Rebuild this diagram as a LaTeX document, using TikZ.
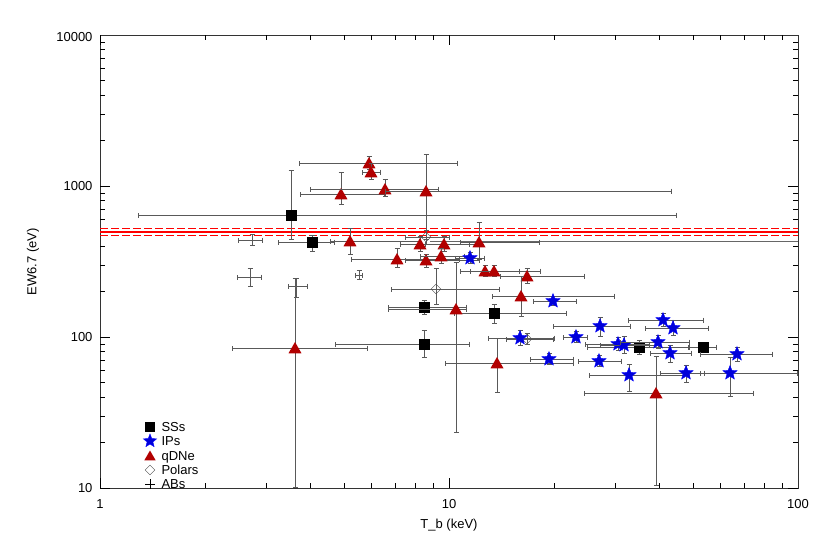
\documentclass[tikz,border=0pt]{standalone}
\usepackage{fontspec}
\setmainfont{Liberation Sans}
\usetikzlibrary{arrows.meta,shapes.geometric}

\begin{document}
\begin{tikzpicture}[x=1pt,y=-1pt,
  ebar/.style={draw=black!65, line width=0.6pt, {Bar[width=5pt]}-{Bar[width=5pt]}},
  ss/.style={rectangle, fill=black, inner sep=0pt, minimum size=11pt},
  ip/.style={star, star points=5, star point ratio=2.3, fill=blue!85!black, draw=blue, inner sep=0pt, minimum size=15pt},
  qdn/.style={regular polygon, regular polygon sides=3, fill=red!70!black, inner sep=0pt, minimum size=15pt},
  polar/.style={diamond, draw=black!70, inner sep=0pt, minimum size=10pt},
  ab/.style={inner sep=0pt, minimum size=0pt},
  lbl/.style={font=\fontsize{13}{14}\selectfont}]

\useasboundingbox (0,0) rectangle (830,554);

% frame and ticks
\draw[black!80, line width=0.6pt] (100,35) rectangle (798,488);
\foreach \d in {0,1} {
  \draw (100+349*\d,488) -- ++(0,-10) (100+349*\d,35) -- ++(0,10);
  \foreach \m in {2,...,9}
    \draw ({100+349*(\d+log10(\m))},488) -- ++(0,-5) ({100+349*(\d+log10(\m))},35) -- ++(0,5);
}
\foreach \d in {0,1,2} {
  \draw (100,488-151*\d) -- ++(10,0) (798,488-151*\d) -- ++(-10,0);
  \foreach \m in {2,...,9}
    \draw (100,{488-151*(\d+log10(\m))}) -- ++(5,0) (798,{488-151*(\d+log10(\m))}) -- ++(-5,0);
}
\node[lbl] (x1) at (100,504) {1};
\node[lbl] (x10) at (449,504) {10};
\node[lbl] (x100) at (798,504) {100};
\node[lbl, anchor=east] (y10) at (96,488) {10};
\node[lbl, anchor=east] (y100) at (96,337) {100};
\node[lbl, anchor=east] (y1000) at (96,186) {1000};
\node[lbl, anchor=east] (y10000) at (96,37) {10000};
\node[lbl] (xlab) at (449,525) {T\_b (keV)};
\node[lbl, rotate=90] (ylab) at (33,262) {EW6.7 (eV)};

% reference line
\draw[red, line width=1.3pt] (100,232) -- (798,232);
\draw[red, line width=1.6pt, dash pattern=on 8pt off 3pt] (100,228.5) -- (798,228.5) (100,235.5) -- (798,235.5);
\draw[black!60, line width=0.5pt] (430,241) -- (798,241);

% ABs
\foreach \x/\y/\xl/\xr/\yt/\yb [count=\i] in {250/277/237/262/268/287, 252/240/238/263/234/246, 296/286/288/308/278/298, 359/275/355/363/270/280} {
  \draw[ebar] (\xl,\y) -- (\xr,\y);
  \draw[ebar] (\x,\yt) -- (\x,\yb);
  \node[ab] (ab\i) at (\x,\y) {};
}

% SSs
\foreach \x/\y/\xl/\xr/\yt/\yb [count=\i] in {291/215/138/677/170/240, 312/242/278/335/235/252, 424/307/388/467/300/315, 494/313/454/567/304/324, 424/344/335/470/330/358, 639/347/587/690/340/355, 703/347/688/717/342/352} {
  \draw[ebar] (\xl,\y) -- (\xr,\y);
  \draw[ebar] (\x,\yt) -- (\x,\yb);
  \node[ss] (ss\i) at (\x,\y) {};
}

% qDNe
\foreach \x/\y/\xl/\xr/\yt/\yb [count=\i] in {369/163/299/458/156/170, 371/172/362/381/163/180, 341/194/300/385/172/205, 385/189/310/439/179/197, 426/191/385/672/154/240, 350/241/330/420/228/255, 397/259/351/460/248/268, 420/244/400/470/236/252, 444/244/425/480/236/252, 426/260/405/480/254/268, 441/256/420/465/248/264, 479/242/460/540/222/260, 485/271/460/520/265/277, 494/271/470/541/265/277, 527/276/500/585/268/284, 521/296/492/615/276/317, 456/309/388/467/262/433, 295/348/232/368/278/488, 497/363/445/574/338/393, 656/393/584/754/356/486} {
  \draw[ebar] (\xl,\y) -- (\xr,\y);
  \draw[ebar] (\x,\yt) -- (\x,\yb);
  \node[qdn] (qdn\i) at (\x,\y+1.5) {};
}

% Polars
\foreach \x/\y/\xl/\xr/\yt/\yb [count=\i] in {436/289/391/500/268/305, 527/339/506/554/333/345, 426/237/405/450/230/245} {
  \draw[ebar] (\xl,\y) -- (\xr,\y);
  \draw[ebar] (\x,\yt) -- (\x,\yb);
  \node[polar] (polar\i) at (\x,\y) {};
}

% IPs
\foreach \x/\y/\xl/\xr/\yt/\yb [count=\i] in {470/258/455/485/252/264, 553/301/533/577/296/306, 600/326/553/631/317/337, 663/320/628/704/313/327, 673/328/645/709/320/336, 520/338/488/555/330/346, 576/337/563/588/331/343, 618/344/585/650/337/351, 624/345/600/660/336/354, 658/342/620/690/335/349, 670/353/650/692/345/363, 737/354/700/773/347/362, 549/359/530/574/353/365, 599/361/578/622/355/367, 629/375/589/690/364/392, 686/373/660/705/365/383, 730/373/700/798/357/397} {
  \draw[ebar] (\xl,\y) -- (\xr,\y);
  \draw[ebar] (\x,\yt) -- (\x,\yb);
  \node[ip] (ip\i) at (\x,\y) {};
}

% legend
\node[ss, minimum size=10pt] (kss) at (150,427) {};
\node[ip, minimum size=14pt] (kip) at (150,441) {};
\node[qdn, minimum size=13pt] (kqdn) at (150,457) {};
\node[polar] (kpolar) at (150,470) {};
\node[ab] (kab) at (150,484) {};
\draw (kab.center) ++(-5,0) -- ++(10,0) (kab.center) ++(0,-5) -- ++(0,10);
\foreach \n/\t in {kss/SSs, kip/IPs, kqdn/qDNe, kpolar/Polars, kab/ABs}
  \node[lbl, anchor=west] at ([xshift=8pt]\n.center) {\t};
\end{tikzpicture}
\end{document}
